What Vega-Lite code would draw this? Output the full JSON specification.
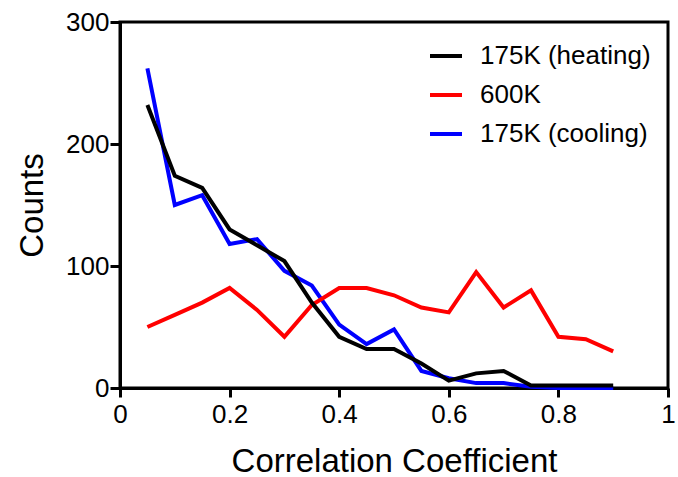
{
  "$schema": "https://vega.github.io/schema/vega-lite/v6.json",
  "autosize": "none",
  "width": 548,
  "height": 366,
  "padding": {"left": 120, "top": 22, "right": 10, "bottom": 89},
  "background": "white",
  "config": {
    "font": "Liberation Sans",
    "view": {"stroke": "black", "strokeWidth": 3},
    "axis": {
      "domainColor": "black",
      "domainWidth": 3,
      "tickColor": "black",
      "tickWidth": 3,
      "grid": false,
      "labelColor": "black",
      "titleColor": "black",
      "labelFont": "Liberation Sans",
      "titleFont": "Liberation Sans",
      "labelFontSize": 26,
      "titleFontSize": 33,
      "titleFontWeight": "normal"
    },
    "legend": {
      "labelFont": "Liberation Sans",
      "labelFontSize": 26,
      "labelColor": "black",
      "labelLimit": 0
    }
  },
  "datasets": {
    "counts": [
      {"r": 0.05, "n": 232, "series": "175K (heating)"},
      {"r": 0.10, "n": 174, "series": "175K (heating)"},
      {"r": 0.15, "n": 164, "series": "175K (heating)"},
      {"r": 0.20, "n": 130, "series": "175K (heating)"},
      {"r": 0.25, "n": 117, "series": "175K (heating)"},
      {"r": 0.30, "n": 104, "series": "175K (heating)"},
      {"r": 0.35, "n": 70, "series": "175K (heating)"},
      {"r": 0.40, "n": 42, "series": "175K (heating)"},
      {"r": 0.45, "n": 32, "series": "175K (heating)"},
      {"r": 0.50, "n": 32, "series": "175K (heating)"},
      {"r": 0.55, "n": 20, "series": "175K (heating)"},
      {"r": 0.60, "n": 6, "series": "175K (heating)"},
      {"r": 0.65, "n": 12, "series": "175K (heating)"},
      {"r": 0.70, "n": 14, "series": "175K (heating)"},
      {"r": 0.75, "n": 2, "series": "175K (heating)"},
      {"r": 0.80, "n": 2, "series": "175K (heating)"},
      {"r": 0.85, "n": 2, "series": "175K (heating)"},
      {"r": 0.90, "n": 2, "series": "175K (heating)"},

      {"r": 0.05, "n": 50, "series": "600K"},
      {"r": 0.10, "n": 60, "series": "600K"},
      {"r": 0.15, "n": 70, "series": "600K"},
      {"r": 0.20, "n": 82, "series": "600K"},
      {"r": 0.25, "n": 64, "series": "600K"},
      {"r": 0.30, "n": 42, "series": "600K"},
      {"r": 0.35, "n": 68, "series": "600K"},
      {"r": 0.40, "n": 82, "series": "600K"},
      {"r": 0.45, "n": 82, "series": "600K"},
      {"r": 0.50, "n": 76, "series": "600K"},
      {"r": 0.55, "n": 66, "series": "600K"},
      {"r": 0.60, "n": 62, "series": "600K"},
      {"r": 0.65, "n": 95, "series": "600K"},
      {"r": 0.70, "n": 66, "series": "600K"},
      {"r": 0.75, "n": 80, "series": "600K"},
      {"r": 0.80, "n": 42, "series": "600K"},
      {"r": 0.85, "n": 40, "series": "600K"},
      {"r": 0.90, "n": 30, "series": "600K"},

      {"r": 0.05, "n": 262, "series": "175K (cooling)"},
      {"r": 0.10, "n": 150, "series": "175K (cooling)"},
      {"r": 0.15, "n": 158, "series": "175K (cooling)"},
      {"r": 0.20, "n": 118, "series": "175K (cooling)"},
      {"r": 0.25, "n": 122, "series": "175K (cooling)"},
      {"r": 0.30, "n": 96, "series": "175K (cooling)"},
      {"r": 0.35, "n": 84, "series": "175K (cooling)"},
      {"r": 0.40, "n": 52, "series": "175K (cooling)"},
      {"r": 0.45, "n": 36, "series": "175K (cooling)"},
      {"r": 0.50, "n": 48, "series": "175K (cooling)"},
      {"r": 0.55, "n": 14, "series": "175K (cooling)"},
      {"r": 0.60, "n": 8, "series": "175K (cooling)"},
      {"r": 0.65, "n": 4, "series": "175K (cooling)"},
      {"r": 0.70, "n": 4, "series": "175K (cooling)"},
      {"r": 0.75, "n": 1, "series": "175K (cooling)"},
      {"r": 0.80, "n": 0, "series": "175K (cooling)"},
      {"r": 0.85, "n": 0, "series": "175K (cooling)"},
      {"r": 0.90, "n": 0, "series": "175K (cooling)"}
    ]
  },
  "data": {"name": "counts"},
  "encoding": {
    "x": {
      "field": "r",
      "type": "quantitative",
      "title": "Correlation Coefficient",
      "scale": {"domain": [0, 1], "nice": false},
      "axis": {"values": [0, 0.2, 0.4, 0.6, 0.8, 1], "format": "~g", "tickSize": 9, "labelPadding": 4, "titlePadding": 18, "labelFlush": false}
    },
    "y": {
      "field": "n",
      "type": "quantitative",
      "title": "Counts",
      "scale": {"domain": [0, 300], "nice": false},
      "axis": {"values": [0, 100, 200, 300], "tickSize": 10, "labelPadding": 1, "titlePadding": 16, "labelFlush": false}
    },
    "color": {
      "field": "series",
      "type": "nominal",
      "scale": {"domain": ["175K (heating)", "600K", "175K (cooling)"], "range": ["#000000", "#ff0000", "#0000ff"]},
      "legend": {
        "title": null,
        "orient": "none",
        "legendX": 308,
        "legendY": 16,
        "symbolType": "stroke",
        "symbolSize": 1024,
        "symbolStrokeWidth": 4,
        "labelOffset": 16,
        "rowPadding": 8
      }
    }
  },
  "layer": [
    {"transform": [{"filter": "datum.series === '175K (cooling)'"}], "mark": {"type": "line", "strokeWidth": 4}},
    {"transform": [{"filter": "datum.series === '600K'"}], "mark": {"type": "line", "strokeWidth": 4}},
    {"transform": [{"filter": "datum.series === '175K (heating)'"}], "mark": {"type": "line", "strokeWidth": 4}}
  ]
}
